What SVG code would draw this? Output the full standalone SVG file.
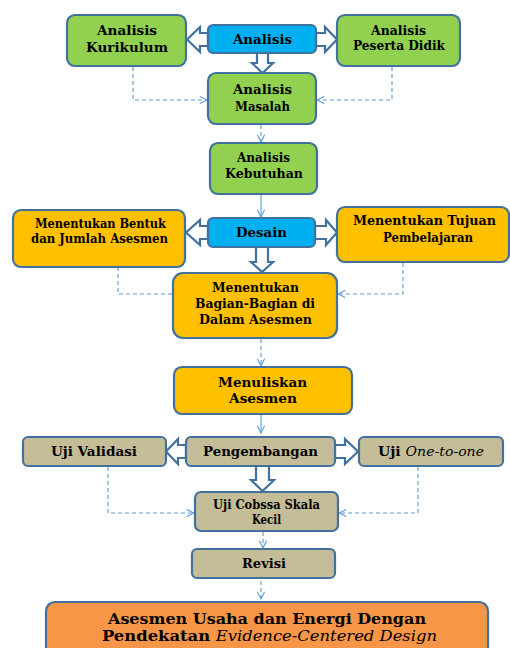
<svg xmlns="http://www.w3.org/2000/svg" width="510" height="648" viewBox="0 0 510 648">
<style>
.box{stroke:#41719C;stroke-width:2.2}
.g{fill:#92D050}.b{fill:#00B0F0}.o{fill:#FFC000}.t{fill:#C4BD97}.f{fill:#F79646}
.blk{fill:#fff;stroke:#41719C;stroke-width:2.2;stroke-linejoin:miter}
.d{fill:none;stroke:#5B9BD5;stroke-width:1.1;stroke-dasharray:4 3}
.s{fill:none;stroke:#5B9BD5;stroke-width:1.1}
text{font-family:"DejaVu Serif","Liberation Serif",serif;font-weight:bold;fill:#000;text-anchor:middle}
.sm{font-size:12px}.md{font-size:13px}.lg{font-size:15.5px}
.it{font-style:italic;font-weight:normal}
</style>
<defs>
<marker id="ah" viewBox="0 0 10 10" refX="9" refY="5" markerWidth="9" markerHeight="9" markerUnits="userSpaceOnUse" orient="auto">
<path d="M1,1 L9,5 L1,9" fill="none" stroke="#5B9BD5" stroke-width="1.2"/>
</marker>
</defs>
<rect width="510" height="648" fill="#fff"/>

<g id="connectors">
<polygon class="blk" points="208,33 200,33 200,27 187,39.5 200,52 200,46 208,46"/>
<polygon class="blk" points="316,33 325,33 325,27 337,39.5 325,52 325,46 316,46"/>
<polygon class="blk" points="257,53 257,63 252,63 262.5,73 273,63 268,63 268,53"/>
<polygon class="blk" points="208,226 200,226 200,220 186,232.5 200,245 200,239 208,239"/>
<polygon class="blk" points="315,226 326,226 326,220 337,232.5 326,245 326,239 315,239"/>
<polygon class="blk" points="256,247 256,262 251,262 262,272 273,262 268,262 268,247"/>
<polygon class="blk" points="186,445 178,445 178,439 166,451.5 178,464 178,458 186,458"/>
<polygon class="blk" points="335,445 345,445 345,439 358,451.5 345,464 345,458 335,458"/>
<polygon class="blk" points="256,466 256,480 251,480 262.5,491 274,480 269,480 269,466"/>
<polyline class="d" points="133,67 133,100 207,100" marker-end="url(#ah)"/>
<polyline class="d" points="392,67 392,100 317,100" marker-end="url(#ah)"/>
<line class="d" x1="261" y1="125" x2="261" y2="142" marker-end="url(#ah)"/>
<line class="s" x1="261" y1="195" x2="261" y2="217" marker-end="url(#ah)"/>
<polyline class="d" points="118,267 118,294 172,294"/>
<polyline class="d" points="403,263 403,294 338,294" marker-end="url(#ah)"/>
<line class="d" x1="261" y1="339" x2="261" y2="366" marker-end="url(#ah)"/>
<line class="s" x1="261" y1="415" x2="261" y2="433" marker-end="url(#ah)"/>
<polyline class="d" points="108,467 108,513 194,513" marker-end="url(#ah)"/>
<polyline class="d" points="418,467 418,513 339,513" marker-end="url(#ah)"/>
<line class="d" x1="263" y1="532" x2="263" y2="548" marker-end="url(#ah)"/>
<line class="d" x1="261" y1="581" x2="261" y2="599" marker-end="url(#ah)"/>
</g>

<g id="analisis-kurikulum"><rect class="box g" x="67" y="15" width="119" height="51" rx="8"/>
<text class="sm" x="127" y="35" textLength="60" lengthAdjust="spacingAndGlyphs">Analisis</text>
<text class="sm" x="127" y="52" textLength="82" lengthAdjust="spacingAndGlyphs">Kurikulum</text></g>

<g id="analisis"><rect class="box b" x="208" y="25" width="108" height="28" rx="5"/>
<text class="md" x="262.5" y="44" textLength="59" lengthAdjust="spacingAndGlyphs">Analisis</text></g>

<g id="analisis-peserta"><rect class="box g" x="337" y="15" width="123" height="51" rx="8"/>
<text class="sm" x="398.5" y="35" textLength="55" lengthAdjust="spacingAndGlyphs">Analisis</text>
<text class="sm" x="399" y="50" textLength="92" lengthAdjust="spacingAndGlyphs">Peserta Didik</text></g>

<g id="analisis-masalah"><rect class="box g" x="208" y="73" width="108" height="51" rx="8"/>
<text class="sm" x="262.5" y="94" textLength="59" lengthAdjust="spacingAndGlyphs">Analisis</text>
<text class="sm" x="262.5" y="111" textLength="55" lengthAdjust="spacingAndGlyphs">Masalah</text></g>

<g id="analisis-kebutuhan"><rect class="box g" x="210" y="143" width="107" height="51" rx="8"/>
<text class="sm" x="263.5" y="162" textLength="53" lengthAdjust="spacingAndGlyphs">Analisis</text>
<text class="sm" x="264" y="178" textLength="78" lengthAdjust="spacingAndGlyphs">Kebutuhan</text></g>

<g id="desain"><rect class="box b" x="208" y="218" width="107" height="29" rx="5"/>
<text class="md" x="261.5" y="237" textLength="51" lengthAdjust="spacingAndGlyphs">Desain</text></g>

<g id="menentukan-bentuk"><rect class="box o" x="13" y="210" width="172" height="57" rx="8"/>
<text class="sm" x="100.5" y="228" textLength="131" lengthAdjust="spacingAndGlyphs">Menentukan Bentuk</text>
<text class="sm" x="99.5" y="243" textLength="137" lengthAdjust="spacingAndGlyphs">dan Jumlah Asesmen</text></g>

<g id="menentukan-tujuan"><rect class="box o" x="337" y="207" width="172" height="55" rx="8"/>
<text class="sm" x="424.5" y="225" textLength="143" lengthAdjust="spacingAndGlyphs">Menentukan Tujuan</text>
<text class="sm" x="428" y="242" textLength="90" lengthAdjust="spacingAndGlyphs">Pembelajaran</text></g>

<g id="menentukan-bagian"><rect class="box o" x="173" y="273" width="164" height="65" rx="10"/>
<text class="sm" x="255.5" y="292" textLength="87" lengthAdjust="spacingAndGlyphs">Menentukan</text>
<text class="sm" x="255" y="308" textLength="120" lengthAdjust="spacingAndGlyphs">Bagian-Bagian di</text>
<text class="sm" x="255.5" y="324" textLength="113" lengthAdjust="spacingAndGlyphs">Dalam Asesmen</text></g>

<g id="menuliskan-asesmen"><rect class="box o" x="174" y="367" width="178" height="47" rx="8"/>
<text class="sm" x="262.5" y="387" textLength="89" lengthAdjust="spacingAndGlyphs">Menuliskan</text>
<text class="sm" x="263" y="403" textLength="68" lengthAdjust="spacingAndGlyphs">Asesmen</text></g>

<g id="uji-validasi"><rect class="box t" x="23" y="437" width="143" height="29" rx="5"/>
<text class="md" x="94" y="456" textLength="86" lengthAdjust="spacingAndGlyphs">Uji Validasi</text></g>

<g id="pengembangan"><rect class="box t" x="186" y="437" width="149" height="29" rx="5"/>
<text class="md" x="260.5" y="456" textLength="115" lengthAdjust="spacingAndGlyphs">Pengembangan</text></g>

<g id="uji-one-to-one"><rect class="box t" x="359" y="437" width="144" height="29" rx="5"/>
<text class="md" x="431" y="456" textLength="106" lengthAdjust="spacingAndGlyphs"><tspan>Uji </tspan><tspan class="it">One-to-one</tspan></text></g>

<g id="uji-coba"><rect class="box t" x="195" y="492" width="143" height="39" rx="6"/>
<text class="sm" x="266.5" y="509" textLength="107" lengthAdjust="spacingAndGlyphs">Uji Cobssa Skala</text>
<text class="sm" x="266.5" y="524" textLength="29" lengthAdjust="spacingAndGlyphs">Kecil</text></g>

<g id="revisi"><rect class="box t" x="192" y="549" width="143" height="29" rx="5"/>
<text class="md" x="264" y="568" textLength="44" lengthAdjust="spacingAndGlyphs">Revisi</text></g>

<g id="hasil"><rect class="box f" x="46" y="602" width="442" height="62" rx="9"/>
<text class="lg" x="267" y="624" textLength="318" lengthAdjust="spacingAndGlyphs">Asesmen Usaha dan Energi Dengan</text>
<text class="lg" x="269.5" y="641" textLength="335" lengthAdjust="spacingAndGlyphs">Pendekatan <tspan class="it">Evidence-Centered Design</tspan></text></g>
</svg>
